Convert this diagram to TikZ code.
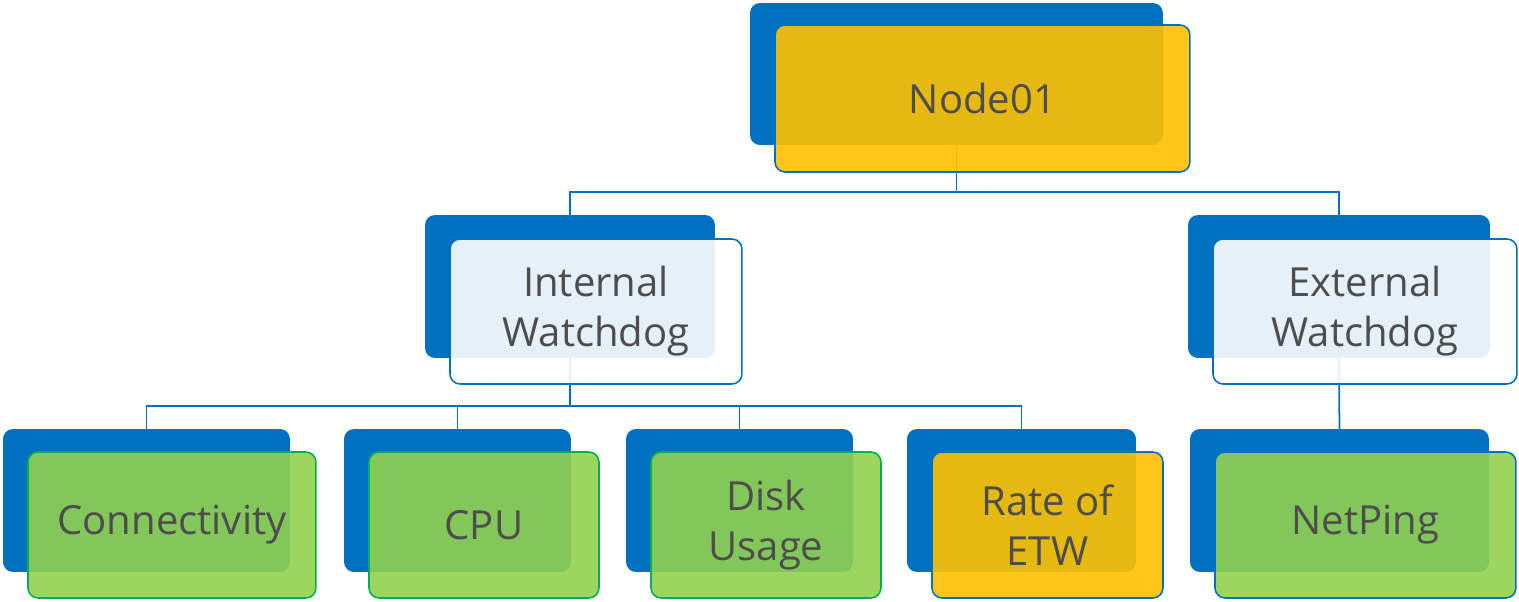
\documentclass[tikz,border=0pt]{standalone}
\usepackage{fontspec}
\setmainfont{Open Sans}
\usepackage{tikz}
\usetikzlibrary{positioning, calc}
\definecolor{backblue}{RGB}{0, 112, 192}
\definecolor{gold}{RGB}{255, 192, 0}
\definecolor{leafgreen}{RGB}{146, 208, 80}
\definecolor{edgegreen}{RGB}{0, 176, 80}
\definecolor{textgray}{RGB}{77, 77, 77}

\begin{document}
\begin{tikzpicture}[
    x=0.02cm, y=-0.02cm,
    back/.style={fill=backblue, rounded corners=0.2cm, inner sep=0pt, outer sep=0pt, anchor=north west},
    front/.style={draw=backblue, line width=0.9pt, rounded corners=0.2cm, fill opacity=0.9, text opacity=1, inner sep=0pt, outer sep=0pt, anchor=north west, align=center, text=textgray, font=\fontsize{22.8}{28.5}\selectfont},
    goldbox/.style={front, fill=gold},
    greenbox/.style={front, fill=leafgreen, draw=edgegreen},
    paleleaf/.style={front, fill=leafgreen},
    whitebox/.style={front, fill=white},
    link/.style={draw=backblue, line width=1pt}
]
    \useasboundingbox (0,0) rectangle (1519,602);

    % Bus lines
    \coordinate (bus1) at (0,192);
    \coordinate (bus2) at (0,406);

    % Back boxes
    \node[back, minimum width=8.26cm, minimum height=2.84cm] (n01back) at (750,3) {};
    \node[back, minimum width=5.8cm, minimum height=2.86cm] (intback) at (425,215) {};
    \node[back, minimum width=6.04cm, minimum height=2.86cm] (extback) at (1188,215) {};
    \node[back, minimum width=5.74cm, minimum height=2.86cm] (conback) at (3,429) {};
    \node[back, minimum width=4.54cm, minimum height=2.86cm] (cpuback) at (344,429) {};
    \node[back, minimum width=4.54cm, minimum height=2.86cm] (diskback) at (626,429) {};
    \node[back, minimum width=4.58cm, minimum height=2.86cm] (etwback) at (907,429) {};
    \node[back, minimum width=5.98cm, minimum height=2.86cm] (pingback) at (1190,429) {};

    % Connectors
    \draw[link] (n01back.south) -- (n01back.south |- bus1) -| (intback.north);
    \draw[link] (n01back.south |- bus1) -| (extback.north);
    \draw[link] (intback.south) -- (intback.south |- bus2) -| (conback.north);
    \draw[link] (intback.south |- bus2) -| (cpuback.north);
    \draw[link] (intback.south |- bus2) -| (diskback.north);
    \draw[link] (intback.south |- bus2) -| (etwback.north);
    \draw[link] (extback.south) -- (pingback.north);

    % Front boxes
    \node[goldbox, minimum width=8.3cm, minimum height=2.94cm] (n01) at (775,25) {Node01};
    \node[whitebox, minimum width=5.84cm, minimum height=2.9cm] (int) at (450,239) {Internal\\Watchdog};
    \node[whitebox, minimum width=6.08cm, minimum height=2.9cm] (ext) at (1213,239) {External\\Watchdog};
    \node[greenbox, minimum width=5.76cm, minimum height=2.92cm] (con) at (28,452) {Connectivity};
    \node[greenbox, minimum width=4.6cm, minimum height=2.92cm] (cpu) at (369,452) {CPU};
    \node[greenbox, minimum width=4.6cm, minimum height=2.92cm] (disk) at (651,452) {Disk\\Usage};
    \node[goldbox, minimum width=4.62cm, minimum height=2.92cm] (etw) at (932,452) {Rate of\\ETW};
    \node[paleleaf, minimum width=6.02cm, minimum height=2.92cm] (ping) at (1215,452) {NetPing};
\end{tikzpicture}
\end{document}
